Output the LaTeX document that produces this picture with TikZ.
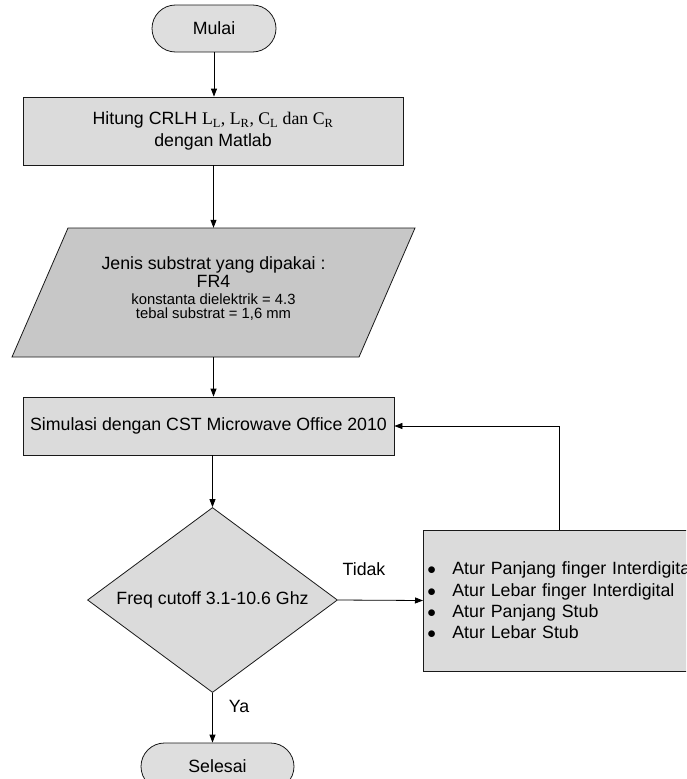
\documentclass[tikz,border=0pt]{standalone}
\usepackage{fontspec}
\setmainfont{Liberation Sans}
\newfontfamily\timesfont{Liberation Serif}
\usetikzlibrary{positioning, shapes.geometric, shapes.misc, arrows.meta}

\begin{document}
\begin{tikzpicture}[
		x=1pt, y=-1pt,
		font=\fontsize{17.75}{21.3}\selectfont,
		terminal/.style={rounded rectangle, draw=black!90, fill=black!13, line width=0.8pt, minimum height=47pt, inner sep=0pt},
		process/.style={rectangle, draw=black!90, fill=black!14, line width=0.8pt, align=center, inner sep=0pt},
		datain/.style={draw=black!90, fill=black!22, line width=0.8pt},
		decision/.style={diamond, draw=black!90, fill=black!14, line width=0.8pt, aspect=1.35, inner sep=0pt, minimum width=250pt, minimum height=185pt},
		arrow/.style={line width=0.8pt, -{Triangle[length=8pt, width=6pt]}}
		]
		
		\useasboundingbox (0,0) rectangle (686,779);
		\clip (0,0) rectangle (686,779);
		
		% Nodes
		\node (mulai) [terminal, minimum width=124pt] at (214,28.5) {Mulai};
		\node (hitung) [process, minimum width=380pt, minimum height=68pt] at (213,131) {Hitung CRLH {\timesfont L\textsubscript{L}, L\textsubscript{R}, C\textsubscript{L} dan C\textsubscript{R}}\\ dengan Matlab};
		\filldraw [datain] (68,228) -- (415,228) -- (359,357) -- (12,357) -- cycle;
		\node (substrat) [align=center, minimum height=129pt, inner sep=0pt, text depth=10pt, font=\fontsize{17.75}{18.4}\selectfont] at (213.5,292.5) {Jenis substrat yang dipakai :\\ FR4\\[-1.1pt] {\fontsize{14.8}{14}\selectfont konstanta dielektrik = 4.3}\\[-4.6pt] {\fontsize{14.8}{14}\selectfont tebal substrat = 1,6 mm}};
		\node (simulasi) [process, minimum width=371pt, minimum height=58pt] at (208.5,426) {Simulasi dengan CST Microwave Office 2010};
		\node (freq) [decision] at (212.5,600) {Freq cutoff 3.1-10.6 Ghz};
		\node (atur) [process, align=left, text width=292pt, minimum height=141pt, inner sep=4pt, anchor=west] at (423,600.5) {\makebox[25pt][l]{$\bullet$}Atur Panjang finger Interdigital\\ \makebox[25pt][l]{$\bullet$}Atur Lebar finger Interdigital\\ \makebox[25pt][l]{$\bullet$}Atur Panjang Stub\\ \makebox[25pt][l]{$\bullet$}Atur Lebar Stub};
		\node (selesai) [terminal, minimum width=153pt] at (217.5,766.5) {Selesai};
		\node (tidak) at (364,569) {Tidak};
		\node (ya) at (239,706) {Ya};
		\coordinate (balik) at (559,426);
		
		% Arrows
		\draw [arrow] (mulai.south) -- (mulai.south |- hitung.north);
		\draw [arrow] (hitung.south -| substrat.north) -- (substrat.north);
		\draw [arrow] (substrat.south) -- (substrat.south |- simulasi.north);
		\draw [arrow] (freq.north |- simulasi.south) -- (freq.north);
		\draw [arrow] (freq.east) -- (atur.west);
		\draw [arrow] (atur.north -| balik) -- (balik) -- (simulasi.east);
		\draw [arrow] (freq.south) -- (freq.south |- selesai.north);
		
	\end{tikzpicture}
\end{document}
